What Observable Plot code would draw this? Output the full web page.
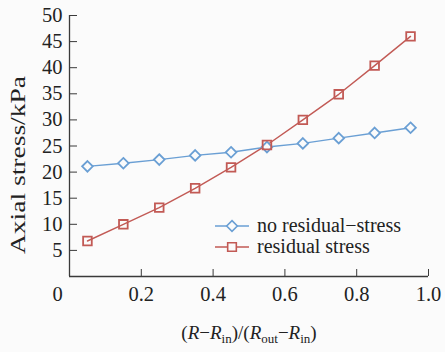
<!DOCTYPE html>
<html>
<head>
<meta charset="utf-8">
<script src="https://cdn.jsdelivr.net/npm/d3@7"></script>
<script src="https://cdn.jsdelivr.net/npm/@observablehq/plot@0.6"></script>
<style>
  html, body { margin: 0; padding: 0; background: #fbfbfb; }
  svg, svg text { font-family: "Liberation Serif", "Times New Roman", serif !important; }
</style>
</head>
<body>
<div id="chart"></div>
<script>
const xs = [0.05, 0.15, 0.25, 0.35, 0.45, 0.55, 0.65, 0.75, 0.85, 0.95];
const noResidual = [21.1, 21.7, 22.4, 23.2, 23.8, 24.8, 25.5, 26.5, 27.5, 28.5];
const residual = [6.8, 10.0, 13.2, 16.9, 20.9, 25.2, 30.0, 34.9, 40.4, 46.0];
const seriesNames = ["no residual\u2212stress", "residual stress"];
const yTicks = [5, 10, 15, 20, 25, 30, 35, 40, 45, 50];
const xTicks = [0.2, 0.4, 0.6, 0.8, 1.0];
const xTickLabels = ["0.2", "0.4", "0.6", "0.8", "1.0"];
const originLabel = ["0"];

const blue = "#6a9fd4";
const red = "#c25a55";
const axisColor = "#3a3a3a";
const textColor = "#222";
const font = "Liberation Serif";

const dataA = xs.map((x, i) => ({x, y: noResidual[i]}));
const dataB = xs.map((x, i) => ({x, y: residual[i]}));

const chart = Plot.plot({
  width: 445,
  height: 352,
  marginLeft: 69,
  marginRight: 17,
  marginTop: 15,
  marginBottom: 76,
  x: {domain: [0, 1]},
  y: {domain: [0, 50]},
  style: {background: "#fbfbfb", fontFamily: font, fontSize: "20px", color: textColor},
  marks: [
    Plot.ruleX([0], {stroke: axisColor, strokeWidth: 1.3}),
    Plot.ruleY([0], {stroke: axisColor, strokeWidth: 1.3}),
    Plot.axisY({ticks: yTicks, tickSize: -8, tickPadding: 15, stroke: axisColor, fill: textColor, fontSize: 20.5, fontFamily: font, label: null}),
    Plot.axisX({ticks: xTicks, tickSize: -7, tickPadding: 17, stroke: axisColor, fill: textColor, fontSize: 20.5, fontFamily: font, label: null,
      tickFormat: d => xTickLabels[xTicks.indexOf(d)]}),
    Plot.text(originLabel, {x: () => 0, frameAnchor: "bottom", lineAnchor: "top", dy: 10, dx: -12, text: d => d, fill: textColor, fontSize: 20.5, fontFamily: font}),
    Plot.line(dataA, {x: "x", y: "y", stroke: blue, strokeWidth: 1.4}),
    Plot.line(dataB, {x: "x", y: "y", stroke: red, strokeWidth: 1.4}),
    Plot.dot(dataA, {x: "x", y: "y", symbol: "diamond2", r: 4.8, stroke: blue, strokeWidth: 1.8, fill: "#fbfbfb"}),
    Plot.dot(dataB, {x: "x", y: "y", symbol: "square2", r: 5.5, stroke: red, strokeWidth: 1.8, fill: "none"})
  ]
});

document.getElementById("chart").appendChild(chart);

const svg = d3.select(chart);

// x-axis label with subscripts
const xl = svg.append("text")
  .attr("x", 249).attr("y", 339)
  .attr("text-anchor", "middle")
  .attr("font-family", font).attr("font-size", 19).attr("fill", textColor);
function part(t, opts = {}) {
  const ts = xl.append("tspan").text(t);
  if (opts.italic) ts.attr("font-style", "italic");
  if (opts.sub) ts.attr("font-size", 13).attr("dy", 4);
  if (opts.unsub) ts.attr("dy", -4);
  return ts;
}
part("(");
part("R", {italic: true});
part("\u2212");
part("R", {italic: true});
part("in", {sub: true});
part(")/(", {unsub: true});
part("R", {italic: true});
part("out", {sub: true});
part("\u2212", {unsub: true});
part("R", {italic: true});
part("in", {sub: true});
part(")", {unsub: true});

// y-axis label
svg.append("text")
  .attr("transform", "translate(25,165) rotate(-90)")
  .attr("text-anchor", "middle")
  .attr("font-family", font).attr("font-size", 21).attr("fill", textColor)
  .attr("textLength", 178).attr("lengthAdjust", "spacingAndGlyphs")
  .text("Axial stress/kPa");

// legend
const legend = [
  {name: seriesNames[0], color: blue, symbol: d3.symbolDiamond2, r: 4.8, y: 226},
  {name: seriesNames[1], color: red, symbol: d3.symbolSquare2, r: 5.5, y: 247}
];
const lg = svg.append("g");
legend.forEach(d => {
  lg.append("line").attr("x1", 215).attr("x2", 249).attr("y1", d.y).attr("y2", d.y)
    .attr("stroke", d.color).attr("stroke-width", 1.4);
  lg.append("path").attr("transform", `translate(232,${d.y})`)
    .attr("d", d3.symbol(d.symbol, d.r * d.r * Math.PI)())
    .attr("stroke", d.color).attr("stroke-width", 1.6).attr("fill", "#fbfbfb");
  lg.append("text").attr("x", 257).attr("y", d.y).attr("dy", "0.32em")
    .attr("text-anchor", "start")
    .attr("font-family", font).attr("font-size", 20).attr("fill", textColor)
    .text(d.name);
});
</script>
</body>
</html>
